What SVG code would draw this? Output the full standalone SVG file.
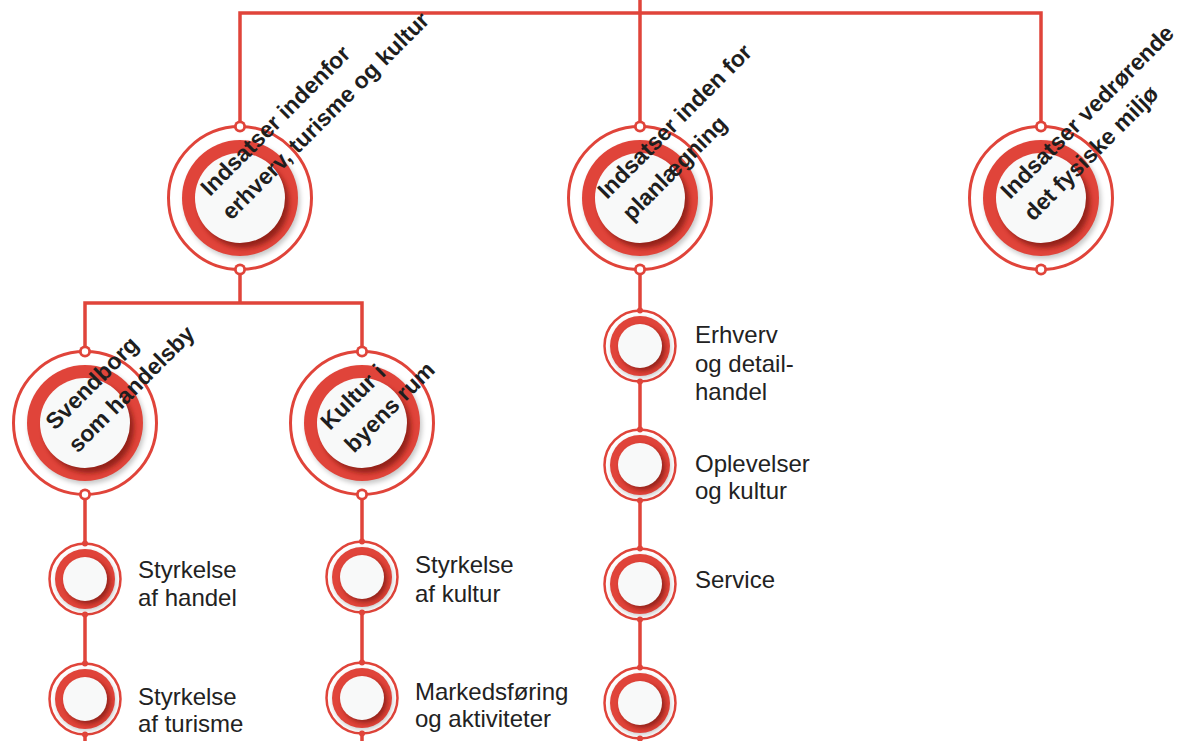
<svg xmlns="http://www.w3.org/2000/svg" xmlns:xlink="http://www.w3.org/1999/xlink" width="1192" height="741" viewBox="0 0 1192 741">
<style>
.ln{fill:none;stroke:#e0443a;stroke-width:3.5}
.lbl{font-family:"Liberation Sans",Arial,sans-serif;font-size:24px;fill:#222}
.rot{font-family:"Liberation Sans",Arial,sans-serif;font-size:23px;font-weight:bold;fill:#1e1e1e}
</style>
<defs>
<filter id="blur" x="-30%" y="-30%" width="160%" height="160%"><feGaussianBlur stdDeviation="2.5"/></filter>
<g id="big">
<circle r="71.5" fill="#fff" stroke="#e0443a" stroke-width="3"/>
<circle r="58" cx="2" cy="3" fill="#000" opacity=".22" filter="url(#blur)"/>
<circle r="58" fill="#e0443a"/>
<circle r="45" cx="4" cy="5" fill="#7a1510" opacity=".75" filter="url(#blur)"/>
<circle r="45" fill="#f8f9f9"/>
<circle cy="-71.5" r="6" fill="#e0443a"/><circle cy="-71.5" r="3.2" fill="#fff"/>
<circle cy="71.5" r="6" fill="#e0443a"/><circle cy="71.5" r="3.2" fill="#fff"/>
</g>
<g id="small">
<circle r="35.5" fill="#fff" stroke="#e0443a" stroke-width="2.5"/>
<circle r="30" cx="1" cy="2" fill="#000" opacity=".2" filter="url(#blur)"/>
<circle r="30" fill="#e0443a"/>
<circle r="22" cx="3" cy="3" fill="#7a1510" opacity=".75" filter="url(#blur)"/>
<circle r="22" fill="#f8f9f9"/>
<circle cy="-35.5" r="3" fill="#e0443a"/>
<circle cy="35.5" r="3" fill="#e0443a"/>
</g>
</defs>
<rect width="1192" height="741" fill="#fff"/>
<g id="connectors">
<path class="ln" d="M640,0V13M240,127V13H1041V127M640,13V127"/>
<path class="ln" d="M240,270V303M85,353V303H362V353"/>
<path class="ln" d="M85,494V543M85,615V663M85,735V741"/>
<path class="ln" d="M362,494V541M362,613V662M362,734V741"/>
<path class="ln" d="M640,270V310M640,382V429M640,501V548M640,620V667M640,739V741"/>
</g>
<g id="n-erhverv" transform="translate(240,198)">
<use xlink:href="#big"/>
<g transform="translate(-30,-1) rotate(-45)"><text class="rot" x="0" y="0">Indsatser indenfor</text><text class="rot" x="-2" y="32">erhverv, turisme og kultur</text></g>
</g>
<g id="n-plan" transform="translate(640,198)">
<use xlink:href="#big"/>
<g transform="translate(-33,2) rotate(-45)"><text class="rot" x="0" y="0">Indsatser inden for</text><text class="rot" x="2" y="33">planlægning</text></g>
</g>
<g id="n-miljo" transform="translate(1041,198)">
<use xlink:href="#big"/>
<g transform="translate(-31,2) rotate(-45)"><text class="rot" x="0" y="0">Indsatser vedrørende</text><text class="rot" x="1" y="32">det fysiske miljø</text></g>
</g>
<g id="n-svendborg" transform="translate(85,423)">
<use xlink:href="#big"/>
<g transform="translate(-30,8) rotate(-45)"><text class="rot" x="0" y="0">Svendborg</text><text class="rot" x="0" y="32">som handelsby</text></g>
</g>
<g id="n-kultur" transform="translate(362,423)">
<use xlink:href="#big"/>
<g transform="translate(-32,8) rotate(-45)"><text class="rot" x="0" y="0">Kultur i</text><text class="rot" x="1" y="33">byens rum</text></g>
</g>
<g id="n-handel" transform="translate(85,579)">
<use xlink:href="#small"/>
<text class="lbl" x="53" y="-1">Styrkelse</text><text class="lbl" x="53" y="27">af handel</text>
</g>
<g id="n-turisme" transform="translate(85,699)">
<use xlink:href="#small"/>
<text class="lbl" x="53" y="6">Styrkelse</text><text class="lbl" x="53" y="33">af turisme</text>
</g>
<g id="n-styrk-kultur" transform="translate(362,577)">
<use xlink:href="#small"/>
<text class="lbl" x="53" y="-4">Styrkelse</text><text class="lbl" x="53" y="25">af kultur</text>
</g>
<g id="n-marked" transform="translate(362,698)">
<use xlink:href="#small"/>
<text class="lbl" x="53" y="2">Markedsføring</text><text class="lbl" x="53" y="29">og aktiviteter</text>
</g>
<g id="n-detail" transform="translate(640,346)">
<use xlink:href="#small"/>
<text class="lbl" x="55" y="-3">Erhverv</text><text class="lbl" x="55" y="26">og detail-</text><text class="lbl" x="55" y="54">handel</text>
</g>
<g id="n-oplevelser" transform="translate(640,465)">
<use xlink:href="#small"/>
<text class="lbl" x="55" y="7">Oplevelser</text><text class="lbl" x="55" y="34">og kultur</text>
</g>
<g id="n-service" transform="translate(640,584)">
<use xlink:href="#small"/>
<text class="lbl" x="55" y="4">Service</text>
</g>
<g id="n-empty" transform="translate(640,703)">
<use xlink:href="#small"/>
</g>
</svg>
